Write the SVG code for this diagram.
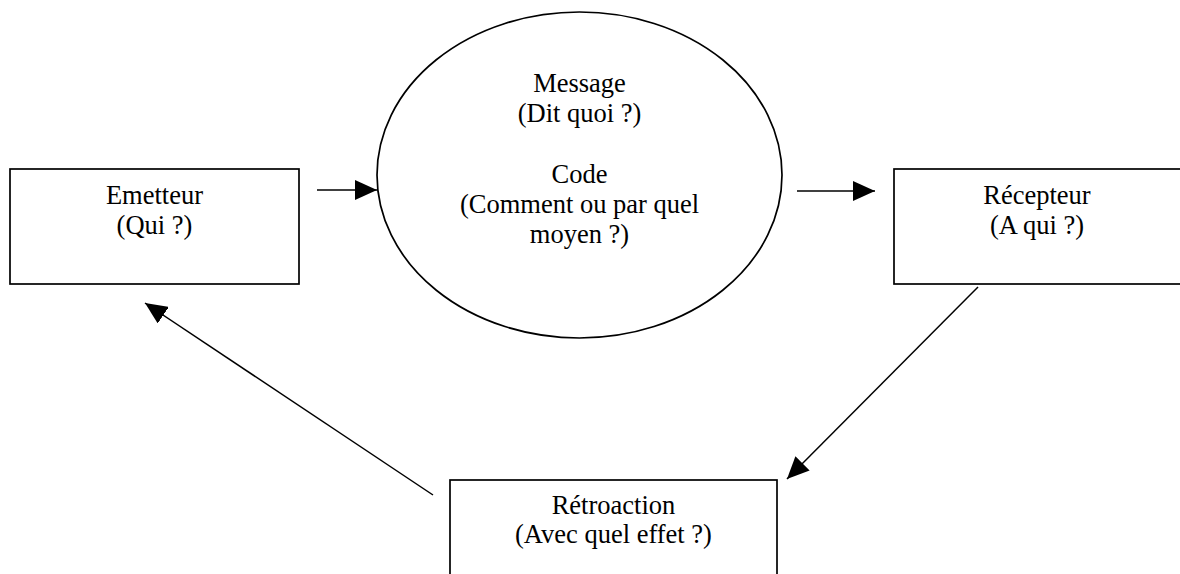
<svg xmlns="http://www.w3.org/2000/svg" width="1180" height="574" viewBox="0 0 1180 574">
<style>
.box{fill:#fff;stroke:#000;stroke-width:1.7}
.lbl{font-family:"Liberation Serif","Times New Roman",serif;font-size:26.5px;fill:#000;text-anchor:middle}
.con{stroke:#000;stroke-width:1.5;fill:none}
</style>
<defs>
<marker id="ah" markerUnits="userSpaceOnUse" viewBox="0 0 22 20" markerWidth="22" markerHeight="20" refX="22" refY="10" orient="auto">
<path d="M0,0 L22,10 L0,20 z" fill="#000"/>
</marker>
</defs>
<rect width="1180" height="574" fill="#fff"/>
<g id="emetteur">
<rect class="box" x="10" y="169" width="289" height="115"/>
<text class="lbl" x="154.5" y="204">Emetteur</text>
<text class="lbl" x="154.5" y="234">(Qui ?)</text>
</g>
<g id="message">
<ellipse class="box" cx="579.5" cy="175" rx="202.5" ry="163"/>
<text class="lbl" x="579.5" y="92">Message</text>
<text class="lbl" x="579.5" y="122">(Dit quoi ?)</text>
<text class="lbl" x="579.5" y="183">Code</text>
<text class="lbl" x="579.5" y="213">(Comment ou par quel</text>
<text class="lbl" x="579.5" y="243">moyen ?)</text>
</g>
<g id="recepteur">
<rect class="box" x="894" y="169" width="289" height="115"/>
<text class="lbl" x="1037" y="204">Récepteur</text>
<text class="lbl" x="1037" y="234">(A qui ?)</text>
</g>
<g id="retroaction">
<rect class="box" x="450" y="480" width="327" height="110"/>
<text class="lbl" x="613.5" y="514">Rétroaction</text>
<text class="lbl" x="613.5" y="543">(Avec quel effet ?)</text>
</g>
<g id="connectors">
<line class="con" x1="317" y1="190" x2="377" y2="190" marker-end="url(#ah)"/>
<line class="con" x1="797" y1="191" x2="875" y2="191" marker-end="url(#ah)"/>
<line class="con" x1="978" y1="287" x2="787" y2="479" marker-end="url(#ah)"/>
<line class="con" x1="433" y1="495" x2="145" y2="303" marker-end="url(#ah)"/>
</g>
</svg>
